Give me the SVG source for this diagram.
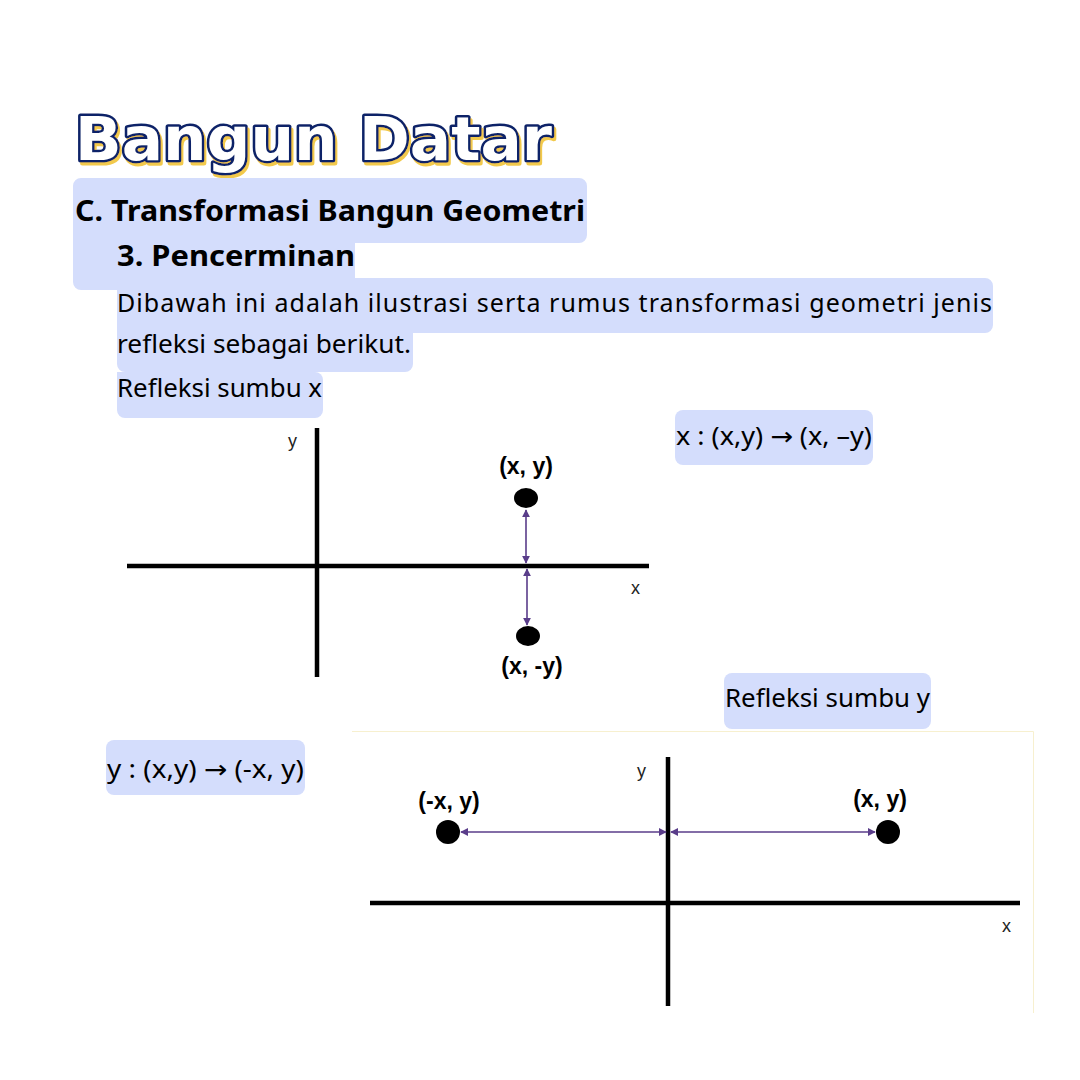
<svg xmlns="http://www.w3.org/2000/svg" width="1080" height="1080" viewBox="0 0 1080 1080">
<defs>
<style>
.hl{fill:#d4ddfc}
.title{font-family:"DejaVu Sans",sans-serif;font-weight:bold;font-size:60px;fill:#ffffff;stroke:#0e2467;stroke-width:5;paint-order:stroke;stroke-linejoin:round}
.h{font-family:"Noto Sans",sans-serif;font-weight:bold;font-size:29px;fill:#000}
.b{font-family:"Noto Sans",sans-serif;font-size:25px;fill:#000}
.arw{font-family:"DejaVu Sans",sans-serif}
.ax{stroke:#000;stroke-width:4.5;fill:none}
.ar{stroke:#5a3d8a;stroke-width:1.6;fill:none;marker-start:url(#ah);marker-end:url(#ah)}
.lbl{font-family:"Liberation Sans",Arial,sans-serif;font-weight:bold;font-size:23px;fill:#000}
.axl{font-family:"Liberation Sans",Arial,sans-serif;font-size:18px;fill:#222}
</style>
<filter id="sh" x="-5%" y="-20%" width="110%" height="140%">
<feDropShadow dx="2" dy="3" stdDeviation="0" flood-color="#f2c94c"/>
</filter>
<marker id="ah" viewBox="0 0 10 10" refX="9" refY="5" markerWidth="5" markerHeight="5" orient="auto-start-reverse" markerUnits="strokeWidth">
<path d="M0,0 L10,5 L0,10 z" fill="#5a3d8a"/>
</marker>
</defs>
<rect width="1080" height="1080" fill="#fff"/>

<g id="title">
<text class="title" x="75" y="160" textLength="477" lengthAdjust="spacingAndGlyphs" filter="url(#sh)">Bangun Datar</text>
</g>

<g id="heading">
<path class="hl" d="M81,178 H579 a8,8 0 0 1 8,8 V235 a8,8 0 0 1 -8,8 H355 V290 H81 a8,8 0 0 1 -8,-8 V186 a8,8 0 0 1 8,-8 z"/>
<text class="h" x="75" y="221" textLength="510" lengthAdjust="spacingAndGlyphs">C. Transformasi Bangun Geometri</text>
<text class="h" x="117" y="266" textLength="238" lengthAdjust="spacingAndGlyphs">3. Pencerminan</text>
</g>

<g id="paragraph">
<path class="hl" d="M125,278 H985 a8,8 0 0 1 8,8 V325 a8,8 0 0 1 -8,8 H413 V364 a8,8 0 0 1 -8,8 H125 a8,8 0 0 1 -8,-8 V286 a8,8 0 0 1 8,-8 z"/>
<text class="b" x="117" y="312" textLength="875" lengthAdjust="spacing">Dibawah ini adalah ilustrasi serta rumus transformasi geometri jenis</text>
<text class="b" x="117" y="353" textLength="294" lengthAdjust="spacingAndGlyphs">refleksi sebagai berikut.</text>
</g>

<g id="label-x">
<path class="hl" d="M117,372 H315 a8,8 0 0 1 8,8 V410 a8,8 0 0 1 -8,8 H125 a8,8 0 0 1 -8,-8 z"/>
<text class="b" x="117" y="397" textLength="205" lengthAdjust="spacingAndGlyphs">Refleksi sumbu x</text>
</g>

<g id="formula-x">
<rect class="hl" x="675" y="410" width="198" height="55" rx="8"/>
<text class="b" x="676" y="445" textLength="196" lengthAdjust="spacingAndGlyphs">x : (x,y) <tspan class="arw">→</tspan> (x, –y)</text>
</g>

<g id="graph-x">
<line class="ax" x1="317" y1="428" x2="317" y2="677"/>
<line class="ax" x1="127" y1="566" x2="649" y2="566"/>
<text class="axl" x="288" y="447">y</text>
<text class="axl" x="631" y="594">x</text>
<ellipse cx="526" cy="498" rx="12" ry="10" fill="#000"/>
<ellipse cx="528" cy="636" rx="12" ry="10" fill="#000"/>
<text class="lbl" x="526" y="474" text-anchor="middle">(x, y)</text>
<text class="lbl" x="532" y="674" text-anchor="middle">(x, -y)</text>
</g>

<g id="label-y">
<rect class="hl" x="724" y="673" width="207" height="56" rx="8"/>
<text class="b" x="725" y="707" textLength="205" lengthAdjust="spacingAndGlyphs">Refleksi sumbu y</text>
</g>

<g id="formula-y">
<rect class="hl" x="106" y="740" width="199" height="55" rx="8"/>
<text class="b" x="107" y="778" textLength="197" lengthAdjust="spacingAndGlyphs">y : (x,y) <tspan class="arw">→</tspan> (-x, y)</text>
</g>

<g id="graph-y">
<path d="M352,731.5 H1033.5 V1013" fill="none" stroke="#f7f0cf" stroke-width="1"/>
<line class="ax" x1="668" y1="757" x2="668" y2="1006"/>
<line class="ax" x1="370" y1="903" x2="1020" y2="903"/>
<text class="axl" x="637" y="777">y</text>
<text class="axl" x="1002" y="932">x</text>
<circle cx="448" cy="832" r="12" fill="#000"/>
<circle cx="888" cy="832" r="12" fill="#000"/>
<text class="lbl" x="449" y="809" text-anchor="middle">(-x, y)</text>
<text class="lbl" x="880" y="807" text-anchor="middle">(x, y)</text>
</g>

<g id="connectors">
<line class="ar" x1="526" y1="510" x2="526" y2="563"/>
<line class="ar" x1="527" y1="569" x2="527" y2="625"/>
<line class="ar" x1="461" y1="832" x2="666" y2="832"/>
<line class="ar" x1="671" y1="832" x2="875" y2="832"/>
</g>
</svg>
